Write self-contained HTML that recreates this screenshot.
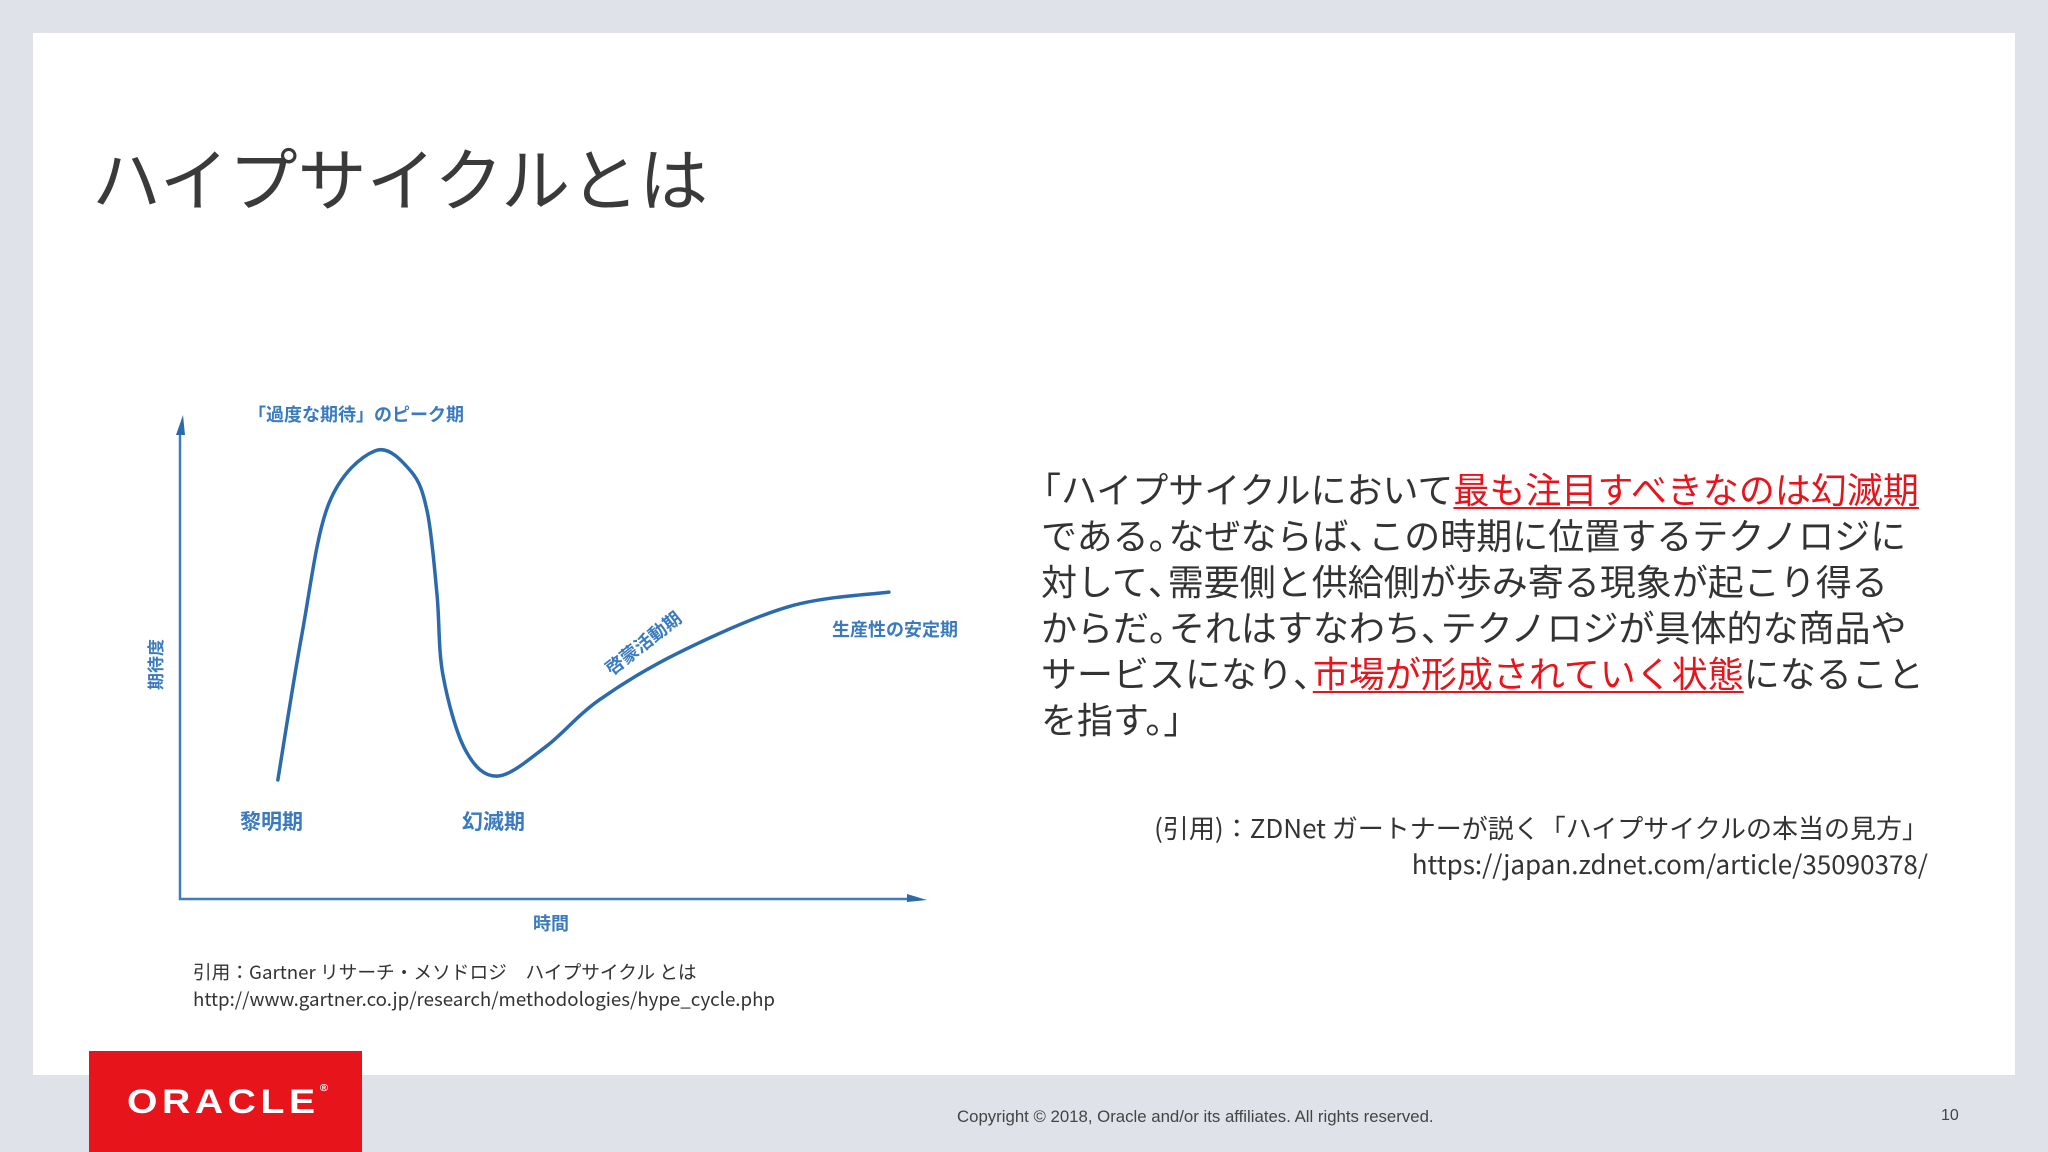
<!DOCTYPE html>
<html><head><meta charset="utf-8"><style>
body{margin:0;width:2048px;height:1152px;background:#dfe3e9;position:relative;overflow:hidden;font-family:"Liberation Sans","Noto Sans CJK JP",sans-serif}
.abs{position:absolute;white-space:nowrap}
.red{color:#e8141b;text-decoration:underline;text-decoration-thickness:2px;text-underline-offset:4px}
.p{letter-spacing:-0.45em}
</style></head><body>
<div class="abs" style="left:33px;top:33px;width:1982px;height:1042px;background:#fff"></div>
<div class="abs" style="left:92px;top:125px;font-size:69px;color:#3a3a3a;font-family:'Noto Sans CJK JP',sans-serif">ハイプサイクルとは</div>

<svg class="abs" style="left:0;top:0" width="1000" height="1000">
<g id="chart"></g>
</svg>

<div class="abs" style="left:193px;top:958px;font-size:18.7px;color:#333;line-height:27px;font-family:'Noto Sans CJK JP',sans-serif">引用：Gartner リサーチ・メソドロジ　ハイプサイクル とは<br>http://www.gartner.co.jp/research/methodologies/hype_cycle.php</div>

<div class="abs" style="left:1025px;top:465px;font-size:36px;line-height:46px;color:#333;font-family:'Noto Sans CJK JP',sans-serif"><div>「ハイプサイクルにおいて<span class="red">最も注目すべきなのは幻滅期</span></div><div style="padding-left:16px">である<span class="p">。</span>なぜならば<span class="p">、</span>この時期に位置するテクノロジに</div><div style="padding-left:16px">対して<span class="p">、</span>需要側と供給側が歩み寄る現象が起こり得る</div><div style="padding-left:16px">からだ<span class="p">。</span>それはすなわち<span class="p">、</span>テクノロジが具体的な商品や</div><div style="padding-left:16px">サービスになり<span class="p">、</span><span class="red">市場が形成されていく状態</span>になること</div><div style="padding-left:16px">を指す。」</div></div>
<div class="abs" style="right:120px;top:810px;font-size:26px;line-height:36px;color:#333;text-align:right;font-family:'Noto Sans CJK JP',sans-serif">(引用)：ZDNet ガートナーが説く「ハイプサイクルの本当の見方」<br>https://japan.zdnet.com/article/35090378/</div>

<div class="abs" style="left:89px;top:1051px;width:273px;height:101px;background:#e8141b"></div>
<div class="abs" style="left:127px;top:1083px;font-size:34px;font-weight:bold;color:#fff;letter-spacing:4px;transform:scaleX(1.15);transform-origin:left">ORACLE<span style="font-size:10px;vertical-align:top;letter-spacing:0">®</span></div>
<div class="abs" style="left:957px;top:1107px;font-size:16.8px;color:#444">Copyright © 2018, Oracle and/or its affiliates. All rights reserved.</div>
<div class="abs" style="left:1941px;top:1107px;font-size:16px;color:#444">10</div>

<script>
const timeVals=[13.1,16.3,19.9,26.1,30.9,33.1,34.4,35.2,38.2,42.5,49.0,56.1,66.9,81.7,94.9];
const expectVals=[24.6,54.5,81.6,92.6,88.4,80.0,63.0,46.3,30.8,25.4,31.5,41.1,51.0,60.5,63.4];
const phaseLabels=["「過度な期待」のピーク期","黎明期","幻滅期","啓蒙活動期","生産性の安定期"];
const X0=180,X1=927,Y0=899,Y1=415;
const sx=t=>X0+(X1-X0)*t/100, sy=e=>Y0-(Y0-Y1)*e/100;
const ns="http://www.w3.org/2000/svg", g=document.getElementById('chart');
function mk(tag,attrs){const el=document.createElementNS(ns,tag);for(const k in attrs)el.setAttribute(k,attrs[k]);g.appendChild(el);return el;}
const ax=mk('path',{d:`M${X0} ${Y1+20}V${Y0}H${X1-12}`,fill:'none',stroke:'#3b7dc0','stroke-width':2.5});


const a1=mk('path',{d:`M${X0-4} ${Y1+20}L${X0+3} ${Y1}L${X0+5} ${Y1+20}Z`,fill:'#2a6aad'});


const a2=mk('path',{d:`M${X1-20} ${Y0-5}L${X1} ${Y0+1}L${X1-20} ${Y0+3}Z`,fill:'#2a6aad'});


const P=timeVals.map((t,i)=>[sx(t),sy(expectVals[i])]);
let d=`M${P[0][0]} ${P[0][1]}`;
for(let i=0;i<P.length-1;i++){const p0=P[Math.max(0,i-1)],p1=P[i],p2=P[i+1],p3=P[Math.min(P.length-1,i+2)];
d+=`C${p1[0]+(p2[0]-p0[0])/6} ${p1[1]+(p2[1]-p0[1])/6} ${p2[0]-(p3[0]-p1[0])/6} ${p2[1]-(p3[1]-p1[1])/6} ${p2[0]} ${p2[1]}`;}
const c=mk('path',{d,fill:'none',stroke:'#2a6aad','stroke-width':3.5,'stroke-linecap':'round'});


const labs=[[248,421,0],[240,829,0],[462,829,0],[612,676,-38],[832,636,0]];
labs.forEach((l,i)=>{const t=mk('text',{x:l[0],y:l[1],fill:'#3a7abf','font-size':i==1||i==2?21:18,'font-weight':'bold','font-family':"'Noto Sans CJK JP',sans-serif",transform:`rotate(${l[2]} ${l[0]} ${l[1]})`});
t.textContent=phaseLabels[i];

});
const xt=mk('text',{x:533,y:930,fill:'#3a7abf','font-size':18,'font-weight':'bold','font-family':"'Noto Sans CJK JP',sans-serif"});xt.textContent='時間';


const yt=mk('text',{x:0,y:0,fill:'#3a7abf','font-size':17,'font-weight':'bold','font-family':"'Noto Sans CJK JP',sans-serif",transform:'translate(162 690) rotate(-90)'});yt.textContent='期待度';


</script>
</body></html>
